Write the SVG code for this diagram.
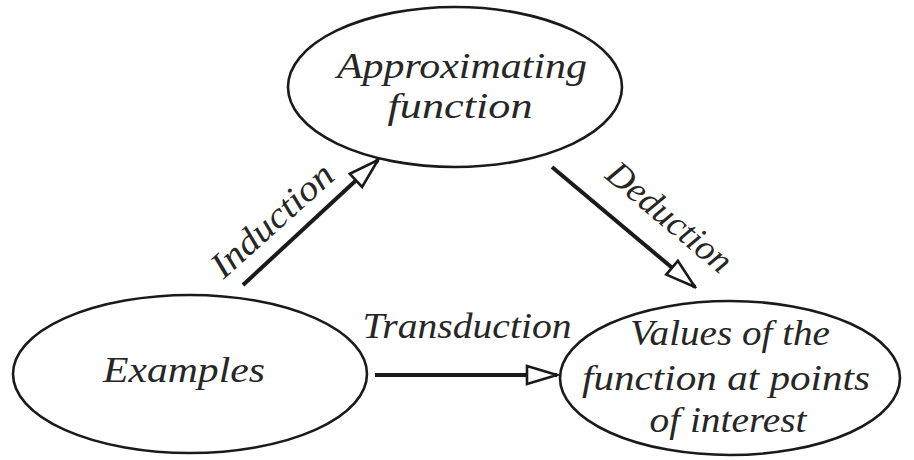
<svg xmlns="http://www.w3.org/2000/svg" width="914" height="460" viewBox="0 0 914 460">
  <defs>
    <style>
      .node ellipse { fill: #ffffff; stroke: #1a1a1a; stroke-width: 2.6; }
      text { font-family: "Liberation Serif", "Times New Roman", serif; font-style: italic; font-size: 36px; fill: #262626; text-anchor: middle; }
      .edge { stroke: #1a1a1a; stroke-width: 4; fill: none; marker-end: url(#openHead); }
    </style>
    <marker id="openHead" markerUnits="userSpaceOnUse" markerWidth="34" markerHeight="22" refX="30" refY="9" orient="auto" viewBox="-2 -2 34 22">
      <path d="M0,0 L30,9 L0,18 Z" fill="#ffffff" stroke="#1a1a1a" stroke-width="2.6" stroke-linejoin="miter"/>
    </marker>
  </defs>
  <rect width="914" height="460" fill="#ffffff"/>

  <g id="approximating-function" class="node">
    <ellipse cx="455" cy="87" rx="167" ry="80"/>
    <text x="462" y="78" textLength="250" lengthAdjust="spacingAndGlyphs">Approximating</text>
    <text x="460" y="118" textLength="145" lengthAdjust="spacingAndGlyphs">function</text>
  </g>

  <g id="examples" class="node">
    <ellipse cx="190" cy="374" rx="177" ry="79"/>
    <text x="184" y="382" textLength="162" lengthAdjust="spacingAndGlyphs">Examples</text>
  </g>

  <g id="values" class="node">
    <ellipse cx="730" cy="378" rx="170" ry="77"/>
    <text x="730" y="345" textLength="200" lengthAdjust="spacingAndGlyphs">Values of the</text>
    <text x="726" y="390" textLength="288" lengthAdjust="spacingAndGlyphs">function at points</text>
    <text x="728" y="432" textLength="157" lengthAdjust="spacingAndGlyphs">of interest</text>
  </g>

  <g id="connectors">
    <line class="edge" x1="243" y1="285" x2="378" y2="160"/>
    <line class="edge" x1="552" y1="167" x2="695" y2="287"/>
    <line class="edge" x1="375" y1="375" x2="557" y2="375"/>
    <text transform="translate(280 229) rotate(-42)" textLength="152" lengthAdjust="spacingAndGlyphs">Induction</text>
    <text transform="translate(662 226) rotate(40)" textLength="152" lengthAdjust="spacingAndGlyphs">Deduction</text>
    <text x="467" y="338" textLength="209" lengthAdjust="spacingAndGlyphs">Transduction</text>
  </g>
</svg>
